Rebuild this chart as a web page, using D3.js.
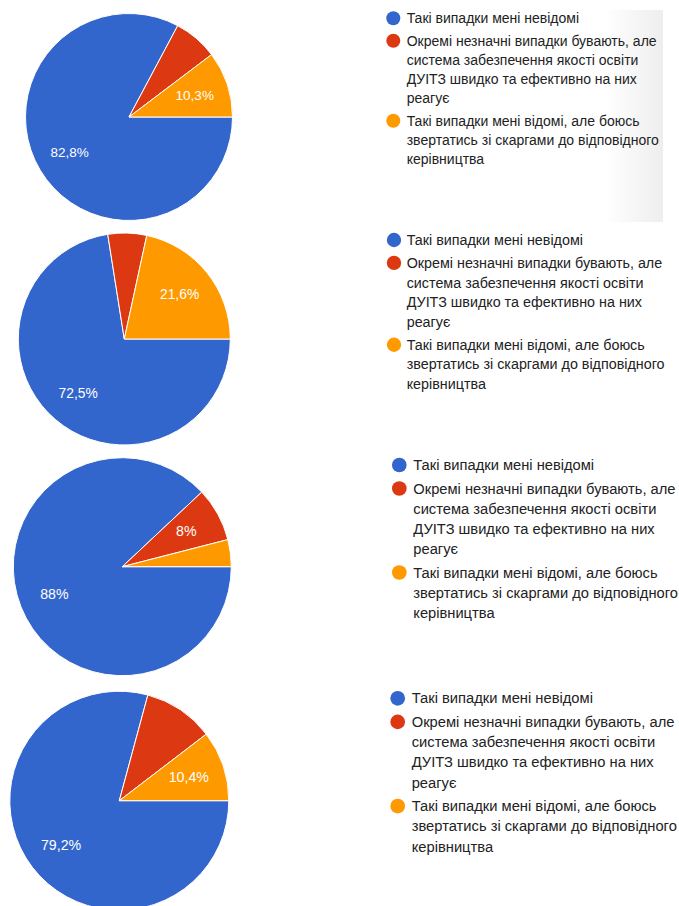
<!DOCTYPE html>
<html>
<head>
<meta charset="utf-8">
<script src="https://cdn.jsdelivr.net/npm/d3@7"></script>
<style>
  html, body { margin: 0; padding: 0; background: #fff; }
  svg { display: block; }
</style>
</head>
<body>
<svg id="chart" width="679" height="906"></svg>
<script>
// ---- data ----
const categories = [
  "Такі випадки мені невідомі",
  "Окремі незначні випадки бувають, але\nсистема забезпечення якості освіти\nДУІТЗ швидко та ефективно на них\nреагує",
  "Такі випадки мені відомі, але боюсь\nзвертатись зі скаргами до відповідного\nкерівництва"
];
const colors = ["#3366cc", "#dc3912", "#ff9900"];
const chart1Values = [82.8, 6.9, 10.3];
const chart2Values = [72.5, 5.9, 21.6];
const chart3Values = [88, 8, 4];
const chart4Values = [79.2, 10.4, 10.4];

// ---- layout (positions / sizes / which slice labels fit) ----
const panels = [
  { values: chart1Values, show: [1, 0, 1], cx: 129.0, cy: 117.0, r: 103.5, s: 1.000, dotX: 393.3, textX: 406.7, legY: 18.3 },
  { values: chart2Values, show: [1, 0, 1], cx: 124.3, cy: 339.0, r: 106.0, s: 1.023, dotX: 394.0, textX: 406.7, legY: 240.0 },
  { values: chart3Values, show: [1, 1, 0], cx: 122.3, cy: 566.7, r: 109.0, s: 1.050, dotX: 399.3, textX: 413.3, legY: 465.0 },
  { values: chart4Values, show: [1, 0, 1], cx: 119.3, cy: 800.7, r: 109.5, s: 1.052, dotX: 397.7, textX: 411.7, legY: 698.3 }
];

const svg = d3.select("#chart");
const defs = svg.append("defs");
const grad = defs.append("linearGradient").attr("id", "fade").attr("x1", "0").attr("x2", "1");
grad.append("stop").attr("offset", "0").attr("stop-color", "#eeeeee").attr("stop-opacity", 0);
grad.append("stop").attr("offset", "1").attr("stop-color", "#eeeeee").attr("stop-opacity", 1);
// scroll fade on the first legend
svg.append("rect").attr("x", 605).attr("y", 10).attr("width", 58).attr("height", 212).attr("fill", "url(#fade)");

const fmt = v => String(v).replace(".", ",") + "%";

panels.forEach(p => {
  const data = p.values.map((v, i) => ({ v, i }));
  const pie = d3.pie().value(d => d.v).sort(null)
    .startAngle(Math.PI / 2).endAngle(Math.PI / 2 + 2 * Math.PI);
  const arcs = pie(data);
  const arc = d3.arc().innerRadius(0).outerRadius(p.r);
  const labelArc = d3.arc().innerRadius(p.r * 0.67).outerRadius(p.r * 0.67);

  const g = svg.append("g").attr("transform", `translate(${p.cx},${p.cy})`);
  g.selectAll("path").data(arcs).join("path")
    .attr("d", arc)
    .attr("fill", d => colors[d.data.i])
    .attr("stroke", "#fff")
    .attr("stroke-width", 1);

  g.selectAll("text").data(arcs.filter(d => p.show[d.data.i])).join("text")
    .attr("transform", d => `translate(${labelArc.centroid(d)})`)
    .attr("text-anchor", "middle")
    .attr("dy", "0.35em")
    .attr("fill", "#fff")
    .style("font-family", "Arial, 'Liberation Sans', sans-serif")
    .style("font-size", (13.5 * p.s) + "px")
    .text(d => fmt(d.data.v));

  // legend
  const lineH = 19.2 * p.s, itemGap = 22.4 * p.s;
  let y = p.legY;
  const lg = svg.append("g");
  categories.forEach((c, i) => {
    lg.append("circle").attr("cx", p.dotX).attr("cy", y).attr("r", 7 * p.s).attr("fill", colors[i]);
    const lines = c.split("\n");
    const t = lg.append("text")
      .attr("fill", "#222")
      .style("font-family", "Arial, 'Liberation Sans', sans-serif")
      .style("font-size", (14 * p.s) + "px");
    lines.forEach((ln, k) => {
      t.append("tspan").attr("x", p.textX).attr("y", y + k * lineH).attr("dy", "0.35em").text(ln);
    });
    y += (lines.length - 1) * lineH + itemGap;
  });
});
</script>
</body>
</html>
